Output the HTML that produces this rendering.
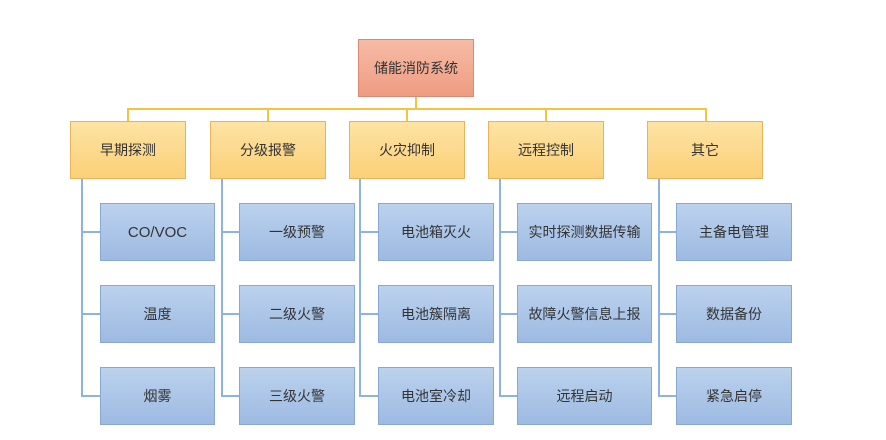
<!DOCTYPE html>
<html><head><meta charset="utf-8"><style>
body{margin:0;width:886px;height:440px;background:#fff;position:relative;overflow:hidden;font-family:"Liberation Sans","Noto Sans CJK SC",sans-serif;}
.b{position:absolute;display:flex;align-items:center;justify-content:center;font-size:14px;color:#333;box-sizing:border-box;white-space:nowrap;}
.r{background:linear-gradient(#f7bba6,#ee9c82);border:1px solid #d98a74;}
.y{background:linear-gradient(#fde3a4,#fbd078);border:1px solid #e6b45e;height:58px;width:116px;top:121px;}
.c{background:linear-gradient(#bcd2ee,#9dbae2);border:1px solid #88a8d2;height:58px;}
.l{position:absolute;}
.yl{background:#f3c440;}
.bl{background:#8fb3df;}
</style></head><body>
<div class="b r" style="left:358px;top:39px;width:116px;height:58px;">储能消防系统</div>
<div class="l yl" style="left:415px;top:97px;width:2px;height:13px"></div>
<div class="l yl" style="left:127px;top:108px;width:580px;height:2px"></div>
<div class="l yl" style="left:127px;top:108px;width:2px;height:13px"></div>
<div class="l yl" style="left:267px;top:108px;width:2px;height:13px"></div>
<div class="l yl" style="left:406px;top:108px;width:2px;height:13px"></div>
<div class="l yl" style="left:545px;top:108px;width:2px;height:13px"></div>
<div class="l yl" style="left:705px;top:108px;width:2px;height:13px"></div>

<div class="b y" style="left:70px">早期探测</div>
<div class="b y" style="left:210px">分级报警</div>
<div class="b y" style="left:349px">火灾抑制</div>
<div class="b y" style="left:488px">远程控制</div>
<div class="b y" style="left:647px">其它</div>

<!-- verticals -->
<div class="l bl" style="left:81px;top:179px;width:2px;height:218px"></div>
<div class="l bl" style="left:221px;top:179px;width:2px;height:218px"></div>
<div class="l bl" style="left:359px;top:179px;width:2px;height:218px"></div>
<div class="l bl" style="left:499px;top:179px;width:2px;height:218px"></div>
<div class="l bl" style="left:658px;top:179px;width:2px;height:218px"></div>
<!-- stubs -->
<div class="l bl" style="left:81px;top:231px;width:19px;height:2px"></div>
<div class="l bl" style="left:81px;top:313px;width:19px;height:2px"></div>
<div class="l bl" style="left:81px;top:395px;width:19px;height:2px"></div>
<div class="l bl" style="left:221px;top:231px;width:18px;height:2px"></div>
<div class="l bl" style="left:221px;top:313px;width:18px;height:2px"></div>
<div class="l bl" style="left:221px;top:395px;width:18px;height:2px"></div>
<div class="l bl" style="left:359px;top:231px;width:19px;height:2px"></div>
<div class="l bl" style="left:359px;top:313px;width:19px;height:2px"></div>
<div class="l bl" style="left:359px;top:395px;width:19px;height:2px"></div>
<div class="l bl" style="left:499px;top:231px;width:18px;height:2px"></div>
<div class="l bl" style="left:499px;top:313px;width:18px;height:2px"></div>
<div class="l bl" style="left:499px;top:395px;width:18px;height:2px"></div>
<div class="l bl" style="left:658px;top:231px;width:18px;height:2px"></div>
<div class="l bl" style="left:658px;top:313px;width:18px;height:2px"></div>
<div class="l bl" style="left:658px;top:395px;width:18px;height:2px"></div>

<div class="b c" style="left:100px;top:203px;width:115px;font-size:15px">CO/VOC</div>
<div class="b c" style="left:100px;top:285px;width:115px">温度</div>
<div class="b c" style="left:100px;top:367px;width:115px">烟雾</div>
<div class="b c" style="left:239px;top:203px;width:116px">一级预警</div>
<div class="b c" style="left:239px;top:285px;width:116px">二级火警</div>
<div class="b c" style="left:239px;top:367px;width:116px">三级火警</div>
<div class="b c" style="left:378px;top:203px;width:116px">电池箱灭火</div>
<div class="b c" style="left:378px;top:285px;width:116px">电池簇隔离</div>
<div class="b c" style="left:378px;top:367px;width:116px">电池室冷却</div>
<div class="b c" style="left:517px;top:203px;width:135px">实时探测数据传输</div>
<div class="b c" style="left:517px;top:285px;width:135px">故障火警信息上报</div>
<div class="b c" style="left:517px;top:367px;width:135px">远程启动</div>
<div class="b c" style="left:676px;top:203px;width:116px">主备电管理</div>
<div class="b c" style="left:676px;top:285px;width:116px">数据备份</div>
<div class="b c" style="left:676px;top:367px;width:116px">紧急启停</div>
</body></html>
